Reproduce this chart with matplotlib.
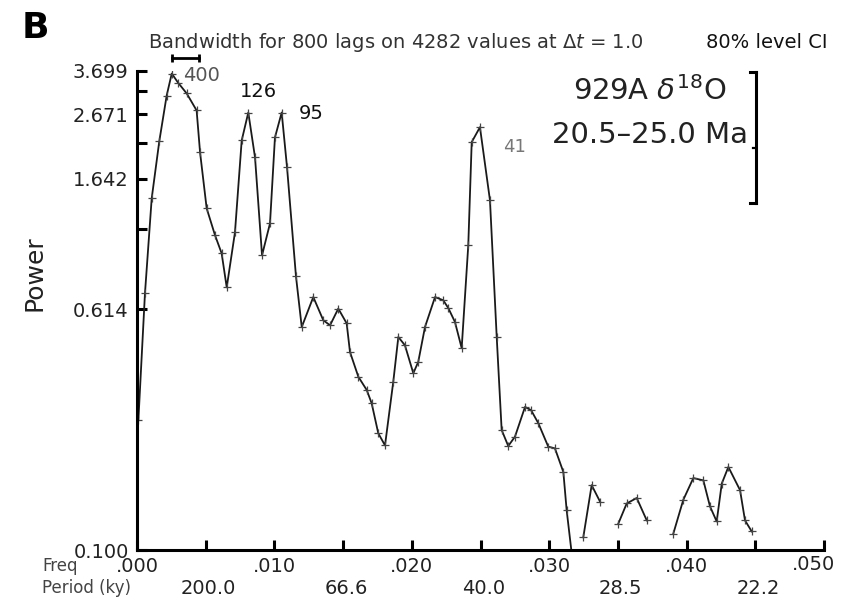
import numpy as np
import matplotlib
matplotlib.use('Agg')
import matplotlib.pyplot as plt
from matplotlib import transforms
from matplotlib.ticker import NullLocator

plt.rcParams['font.family'] = ['DejaVu Sans']

# spectrum (freq in cycles/ky, power); nan = below 0.1, not drawn
freq = [0.0001, 0.00058, 0.00107, 0.00162, 0.00216, 0.00253, 0.00298, 0.00362,
        0.00434, 0.00459, 0.00507, 0.00568, 0.00616, 0.00653, 0.00713, 0.00762,
        0.00810, 0.00859, 0.00910, 0.00968, 0.01004, 0.01053, 0.01092, 0.01157,
        0.01199, 0.01283, 0.01356, 0.01405, 0.01465, 0.01526, 0.01550, 0.01611,
        0.01672, 0.01708, 0.01756, 0.01805, 0.01865, 0.01902, 0.01950, 0.02011,
        0.02047, 0.02096, 0.02169, 0.02229, 0.02266, 0.02314, 0.02363, 0.02411,
        0.02436, 0.02496, 0.02569, 0.02618, 0.02654, 0.02702, 0.02751, 0.02824,
        0.02868, 0.02921, 0.02993, 0.03042, 0.03103, 0.03127, 0.03166, 0.03210,
        0.03248, 0.03309, 0.03370, 0.03440, 0.03503, 0.03564, 0.03637, 0.03710,
        0.03800, 0.03903, 0.03976, 0.04049, 0.04122, 0.04170, 0.04219, 0.04256,
        0.04304, 0.04389, 0.04425, 0.04474]
power = [0.266, 0.692, 1.416, 2.175, 3.075, 3.629, 3.391, 3.122,
         2.747, 2.002, 1.314, 1.072, 0.936, 0.724, 1.096, 2.191,
         2.705, 1.928, 0.922, 1.173, 2.241, 2.705, 1.789, 0.787,
         0.537, 0.673, 0.565, 0.544, 0.617, 0.552, 0.445, 0.369,
         0.334, 0.302, 0.241, 0.220, 0.355, 0.498, 0.468, 0.379,
         0.413, 0.537, 0.673, 0.657, 0.619, 0.558, 0.458, 0.994,
         2.164, 2.422, 1.395, 0.498, 0.247, 0.219, 0.235, 0.294,
         0.287, 0.260, 0.218, 0.215, 0.180, 0.135, 0.0956, np.nan,
         0.110, 0.163, 0.144, np.nan, 0.122, 0.142, 0.148, 0.125,
         np.nan, 0.113, 0.146, 0.172, 0.169, 0.139, 0.124, 0.165,
         0.187, 0.157, 0.125, 0.115]

peak_labels = ['400', '126', '95', '41']

y_ticks = [0.1 + (3.699 - 0.1) / 7 * k for k in range(8)]
y_labels = ['0.100', '0.614', '', '1.642', '', '2.671', '', '3.699']
x_ticks = [0.005 * k for k in range(11)]
x_labels = ['.000', '', '.010', '', '.020', '', '.030', '', '.040', '', '.050']
period_freq = [0.005, 0.015, 0.025, 0.035, 0.045]
period_labels = ['200.0', '66.6', '40.0', '28.5', '22.2']

# 80% confidence interval bar and bandwidth
ci_freq = 0.04505
ci_low, ci_mid, ci_high = 1.364, 2.063, 3.685
bw_center, bw_width = 0.00354, 0.00194

fig = plt.figure(figsize=(8.41, 6.0), dpi=100)
ax = fig.add_axes([137 / 841, 50 / 600, 687 / 841, 479 / 600])

ax.plot(freq, power, color='#1a1a1a', lw=1.3, marker='+', ms=6, mew=0.9, mec='#444')

ax.set_yscale('log')
ax.set_ylim(0.1, 3.699)
ax.set_xlim(0, 0.05)
ax.set_yticks(y_ticks)
ax.set_yticklabels(y_labels)
ax.yaxis.set_minor_locator(NullLocator())
ax.set_xticks(x_ticks)
ax.set_xticklabels(x_labels)
ax.tick_params(direction='in', length=7, width=2.2, labelsize=14, color='black', labelcolor='#222')
ax.tick_params(axis='x', pad=5)
ax.tick_params(axis='y', pad=6)
for s in ['top', 'right']:
    ax.spines[s].set_visible(False)
for s in ['left', 'bottom']:
    ax.spines[s].set_linewidth(2.2)

# pull the last freq label in so it stays on the page
last = ax.get_xticklabels()[-1]
last.set_transform(last.get_transform() + transforms.ScaledTranslation(-0.1, 0.02, fig.dpi_scale_trans))

# period row under the frequency labels
trans = transforms.blended_transform_factory(ax.transData, ax.transAxes)
for f, lab in zip(period_freq, period_labels):
    ax.text(f + 0.0002, -0.080, lab, transform=trans, ha='center', va='center', fontsize=14, color='#222')
fig.text(42 / 841, 1 - 566 / 600, 'Freq', fontsize=12, color='#444', va='center')
fig.text(42 / 841, 1 - 588 / 600, 'Period (ky)', fontsize=12, color='#444', va='center')

# peak labels
ax.text(0.00335, 3.575, peak_labels[0], fontsize=14, color='#555', ha='left', va='center')
ax.text(0.00881, 3.17, peak_labels[1], fontsize=14, color='#111', ha='center', va='center')
ax.text(0.01266, 2.685, peak_labels[2], fontsize=14, color='#111', ha='center', va='center')
ax.text(0.02744, 2.079, peak_labels[3], fontsize=13, color='#777', ha='center', va='center')

# CI bracket
ax.plot([ci_freq, ci_freq], [ci_low, ci_high], color='black', lw=2.2, clip_on=False)
ax.plot([ci_freq - 0.00042, ci_freq], [ci_high, ci_high], color='black', lw=2.2, clip_on=False)
ax.plot([ci_freq - 0.00042, ci_freq], [ci_low, ci_low], color='black', lw=2.2, clip_on=False)
ax.plot([ci_freq - 0.00025, ci_freq], [ci_mid, ci_mid], color='black', lw=1.6, clip_on=False)

# bandwidth bar above the 400 peak
ax.plot([bw_center - bw_width / 2, bw_center + bw_width / 2], [4.09, 4.09], color='black',
        lw=2.0, marker='|', ms=6, mew=2.0, clip_on=False)

fig.text(650 / 841, 1 - 91 / 600, r'929A $\delta^{18}$O', fontsize=21, ha='center', va='center', color='#222')
fig.text(650 / 841, 1 - 135 / 600, '20.5\u201325.0 Ma', fontsize=21, ha='center', va='center', color='#222')

fig.text(148 / 841, 1 - 42 / 600, r'Bandwidth for 800 lags on 4282 values at $\Delta t$ = 1.0',
         fontsize=14, ha='left', va='center', color='#333')
fig.text(828 / 841, 1 - 42 / 600, '80% level CI', fontsize=14, ha='right', va='center', color='#111')

fig.text(22 / 841, 1 - 28 / 600, 'B', fontsize=26, fontweight='bold', ha='left', va='center')
fig.text(35 / 841, 1 - 273 / 600, 'Power', fontsize=18, rotation=90, ha='center', va='center', color='#222')

fig.savefig('out.png', dpi=100)
